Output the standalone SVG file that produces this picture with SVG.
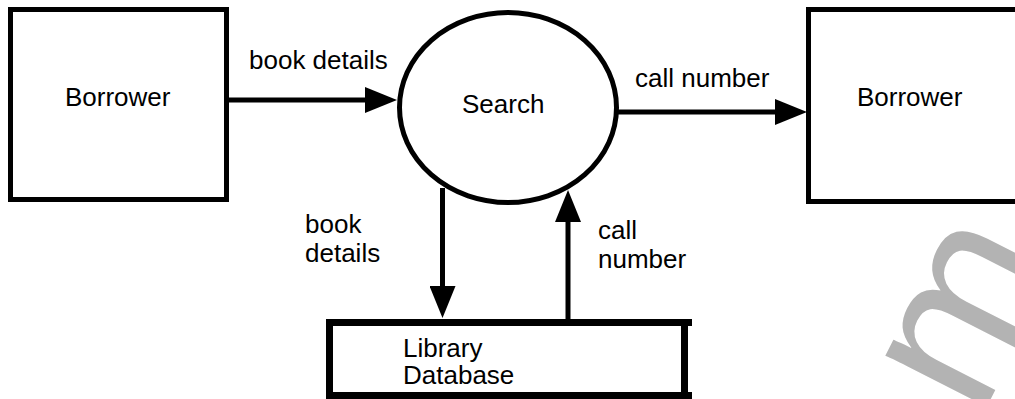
<svg xmlns="http://www.w3.org/2000/svg" width="1015" height="399" viewBox="0 0 1015 399">
<style>
.box{fill:#fff;stroke:#000;stroke-width:5}
.db{fill:#fff;stroke:#000;stroke-width:7}
.flow{stroke:#000;stroke-width:5;fill:none}
text{font-family:"Liberation Sans",Arial,sans-serif;font-size:26px;fill:#000}
.wm{font-size:215px;fill:#b3b3b3}
</style>
<defs>
<marker id="ah" markerUnits="userSpaceOnUse" markerWidth="32" markerHeight="26" refX="2" refY="13" orient="auto">
<path d="M0,0 L32,13 L0,26 z" fill="#000"/>
</marker>
</defs>
<rect width="1015" height="399" fill="#fff"/>
<text class="wm" transform="translate(980,420) rotate(-63)">m</text>
<g id="borrower-left">
<rect class="box" x="10.5" y="9.5" width="216" height="190"/>
<text x="65" y="106">Borrower</text>
</g>
<g id="search">
<ellipse class="box" cx="508" cy="107.5" rx="108.5" ry="95"/>
<text x="462" y="113">Search</text>
</g>
<g id="borrower-right">
<rect class="box" x="808.5" y="9.5" width="230" height="192"/>
<text x="857" y="106">Borrower</text>
</g>
<g id="library-database">
<rect class="db" x="329.5" y="322.5" width="355" height="73"/>
<line x1="684" y1="322.5" x2="692" y2="322.5" stroke="#000" stroke-width="7"/>
<line x1="684" y1="395.5" x2="692" y2="395.5" stroke="#000" stroke-width="7"/>
<text x="403" y="357">Library</text>
<text x="403" y="384">Database</text>
</g>
<g id="connectors">
<line class="flow" x1="229" y1="100" x2="367" y2="100" marker-end="url(#ah)"/>
<text x="249" y="69">book details</text>
<line class="flow" x1="618" y1="112" x2="777" y2="112" marker-end="url(#ah)"/>
<text x="635" y="87">call number</text>
<line class="flow" x1="442.5" y1="188" x2="442.5" y2="288" marker-end="url(#ah)"/>
<text x="305" y="233">book</text>
<text x="305" y="262">details</text>
<line class="flow" x1="568" y1="320" x2="568" y2="220" marker-end="url(#ah)"/>
<text x="598" y="239">call</text>
<text x="598" y="268">number</text>
</g>
</svg>
